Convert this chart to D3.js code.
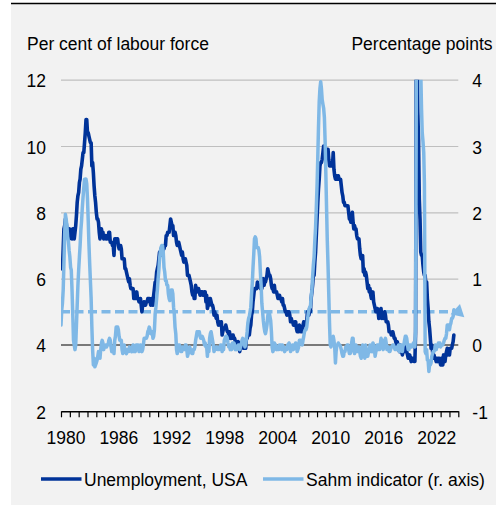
<!DOCTYPE html>
<html>
<head>
<meta charset="utf-8">
<script src="https://cdnjs.cloudflare.com/ajax/libs/d3/7.8.5/d3.min.js"></script>
<style>
  body { margin: 0; background: #fff; }
  svg text { font-family: "Liberation Sans", Arial, sans-serif; font-size: 17.5px; fill: #000; }
</style>
</head>
<body>
<svg id="chart" width="496" height="506"></svg>
<script>
// monthly data, Jan 1980 - Jul 2024
const startYear = 1980;
const endYear = 2025;

// US unemployment rate, per cent of labour force
const unemployment = [
  6.3,6.3,6.3,6.9,7.5,7.6,7.8,7.7,7.5,7.5,7.5,7.2,
  7.5,7.4,7.4,7.2,7.5,7.5,7.2,7.4,7.6,7.9,8.3,8.5,
  8.6,8.9,9.0,9.3,9.4,9.6,9.8,9.8,10.1,10.4,10.8,10.8,
  10.4,10.4,10.3,10.2,10.1,10.1,9.4,9.5,9.2,8.8,8.5,8.3,
  8.0,7.8,7.8,7.7,7.4,7.2,7.5,7.5,7.3,7.4,7.2,7.3,
  7.3,7.2,7.2,7.3,7.2,7.4,7.4,7.1,7.1,7.1,7.0,7.0,
  6.7,7.2,7.2,7.1,7.2,7.2,7.0,6.9,7.0,7.0,6.9,6.6,
  6.6,6.6,6.6,6.3,6.3,6.2,6.1,6.0,5.9,6.0,5.8,5.7,
  5.7,5.7,5.7,5.4,5.6,5.4,5.4,5.6,5.4,5.4,5.3,5.3,
  5.4,5.2,5.0,5.2,5.2,5.3,5.2,5.2,5.3,5.3,5.4,5.4,
  5.4,5.3,5.2,5.4,5.4,5.2,5.5,5.7,5.9,5.9,6.2,6.3,
  6.4,6.6,6.8,6.7,6.9,6.9,6.8,6.9,6.9,7.0,7.0,7.3,
  7.3,7.4,7.4,7.4,7.6,7.8,7.7,7.6,7.6,7.3,7.4,7.4,
  7.3,7.1,7.0,7.1,7.1,7.0,6.9,6.8,6.7,6.8,6.6,6.5,
  6.6,6.6,6.5,6.4,6.1,6.1,6.1,6.0,5.9,5.8,5.6,5.5,
  5.6,5.4,5.4,5.8,5.6,5.6,5.7,5.7,5.6,5.5,5.6,5.6,
  5.6,5.5,5.5,5.6,5.6,5.3,5.5,5.1,5.2,5.2,5.4,5.4,
  5.3,5.2,5.2,5.1,4.9,5.0,4.9,4.8,4.9,4.7,4.6,4.7,
  4.6,4.6,4.7,4.3,4.4,4.5,4.5,4.5,4.6,4.5,4.4,4.4,
  4.3,4.4,4.2,4.3,4.2,4.3,4.3,4.2,4.2,4.1,4.1,4.0,
  4.0,4.1,4.0,3.8,4.0,4.0,4.0,4.1,3.9,3.9,3.9,3.9,
  4.2,4.2,4.3,4.4,4.3,4.5,4.6,4.9,5.0,5.3,5.5,5.7,
  5.7,5.7,5.7,5.9,5.8,5.8,5.8,5.7,5.7,5.7,5.9,6.0,
  5.8,5.9,5.9,6.0,6.1,6.3,6.2,6.1,6.1,6.0,5.8,5.7,
  5.7,5.6,5.8,5.6,5.6,5.6,5.5,5.4,5.4,5.5,5.4,5.4,
  5.3,5.4,5.2,5.2,5.1,5.0,5.0,4.9,5.0,5.0,5.0,4.9,
  4.7,4.8,4.7,4.7,4.6,4.6,4.7,4.7,4.5,4.4,4.5,4.4,
  4.6,4.5,4.4,4.5,4.4,4.6,4.7,4.6,4.7,4.7,4.7,5.0,
  5.0,4.9,5.1,5.0,5.4,5.6,5.8,6.1,6.1,6.5,6.8,7.3,
  7.8,8.3,8.7,9.0,9.4,9.5,9.5,9.6,9.8,10.0,9.9,9.9,
  9.8,9.8,9.9,9.9,9.6,9.4,9.4,9.5,9.5,9.4,9.8,9.3,
  9.1,9.0,9.0,9.1,9.0,9.1,9.0,9.0,9.0,8.8,8.6,8.5,
  8.3,8.3,8.2,8.2,8.2,8.2,8.2,8.0,7.8,7.8,7.7,7.9,
  8.0,7.7,7.5,7.6,7.5,7.5,7.3,7.2,7.2,7.2,6.9,6.7,
  6.6,6.7,6.7,6.2,6.3,6.1,6.2,6.1,5.9,5.7,5.8,5.6,
  5.7,5.5,5.4,5.4,5.6,5.3,5.2,5.1,5.0,5.0,5.1,5.0,
  4.8,4.9,5.0,5.1,4.8,4.9,4.8,4.9,5.0,4.9,4.7,4.7,
  4.7,4.6,4.4,4.4,4.4,4.3,4.3,4.4,4.3,4.2,4.2,4.1,
  4.0,4.1,4.0,4.0,3.8,4.0,3.8,3.8,3.7,3.8,3.8,3.9,
  4.0,3.8,3.8,3.7,3.6,3.6,3.7,3.6,3.5,3.6,3.6,3.6,
  3.5,3.5,4.4,14.8,13.2,11.0,10.2,8.4,7.8,6.8,6.7,6.7,
  6.4,6.2,6.1,6.1,5.8,5.9,5.4,5.1,4.7,4.5,4.2,3.9,
  4.0,3.8,3.6,3.7,3.6,3.6,3.5,3.6,3.5,3.6,3.6,3.5,
  3.4,3.6,3.5,3.4,3.7,3.6,3.5,3.7,3.8,3.9,3.7,3.8,
  3.7,3.9,3.9,3.9,4.0,4.1,4.3
];

// Sahm recession indicator, percentage points (right axis)
const sahm = [
  0.30,0.53,0.63,0.83,1.23,1.67,1.97,1.90,1.80,1.63,1.57,1.43,
  1.33,1.17,1.13,0.83,0.47,0.07,0.00,-0.07,0.00,0.30,0.60,0.90,
  1.13,1.33,1.50,1.73,1.87,2.07,2.23,2.37,2.50,2.47,2.50,2.43,
  2.20,1.87,1.53,1.23,0.97,0.70,0.27,-0.07,-0.30,-0.20,-0.33,-0.30,
  -0.27,-0.23,-0.17,-0.10,-0.13,-0.20,-0.07,0.03,0.07,0.03,-0.07,0.00,
  -0.03,0.00,-0.03,0.00,0.00,0.07,0.10,0.07,-0.03,-0.10,-0.03,-0.03,
  -0.13,0.07,0.13,0.27,0.27,0.27,0.23,0.13,0.07,0.07,0.07,-0.07,
  -0.13,-0.10,0.00,-0.10,-0.10,-0.13,-0.07,-0.10,-0.10,-0.03,-0.07,-0.07,
  -0.10,-0.03,0.00,-0.10,-0.03,-0.10,0.00,0.00,0.00,0.00,-0.10,-0.03,
  0.00,-0.03,-0.10,-0.07,0.00,0.10,0.10,0.10,0.10,0.13,0.20,0.23,
  0.27,0.23,0.17,0.17,0.20,0.10,0.13,0.23,0.47,0.57,0.70,0.83,
  1.00,1.13,1.30,1.40,1.47,1.50,1.50,1.40,1.17,1.10,0.97,0.97,
  0.90,0.90,0.77,0.70,0.67,0.77,0.83,0.83,0.77,0.57,0.47,0.27,
  0.17,-0.07,-0.13,-0.07,0.00,0.00,-0.07,-0.10,-0.10,-0.03,-0.07,-0.07,
  -0.07,0.00,0.00,-0.07,-0.17,-0.13,-0.10,-0.03,-0.07,-0.10,-0.13,-0.13,
  -0.07,-0.07,-0.03,0.07,0.13,0.20,0.17,0.20,0.20,0.13,0.10,0.10,
  0.13,0.10,0.07,0.00,0.03,-0.03,-0.03,-0.17,-0.03,-0.10,0.10,0.17,
  0.20,0.13,0.07,0.00,-0.10,-0.07,-0.07,-0.03,-0.03,-0.07,-0.07,-0.07,
  -0.03,0.00,0.00,-0.10,-0.07,-0.07,0.07,0.10,0.13,0.13,0.10,0.03,
  -0.03,0.00,-0.07,0.00,-0.07,0.03,0.03,0.03,0.00,-0.07,-0.03,-0.07,
  -0.03,0.00,0.00,-0.07,-0.03,0.00,0.07,0.10,0.07,0.03,-0.03,0.00,
  0.10,0.20,0.33,0.40,0.43,0.50,0.57,0.77,0.93,1.17,1.37,1.60,
  1.63,1.60,1.47,1.47,1.47,1.43,1.33,1.10,0.90,0.63,0.50,0.37,
  0.27,0.20,0.17,0.23,0.30,0.43,0.50,0.50,0.43,0.37,0.20,-0.03,
  -0.10,-0.07,0.03,0.00,0.00,-0.07,-0.03,-0.07,-0.07,0.00,0.00,0.00,
  -0.07,0.00,-0.07,-0.03,-0.10,-0.07,-0.07,-0.07,0.00,0.00,0.03,0.00,
  -0.10,-0.07,-0.07,0.00,-0.07,-0.03,0.00,0.03,0.00,-0.10,-0.07,-0.03,
  0.07,0.07,0.07,0.03,0.00,0.07,0.13,0.20,0.23,0.23,0.27,0.37,
  0.47,0.53,0.57,0.57,0.73,0.83,1.03,1.20,1.33,1.57,1.77,2.07,
  2.40,2.83,3.27,3.67,3.87,3.97,3.87,3.70,3.63,3.57,3.43,3.07,
  2.57,2.03,1.57,1.20,0.77,0.33,0.00,-0.03,0.03,0.03,0.13,0.07,
  -0.03,-0.27,-0.10,0.00,0.00,0.03,0.00,0.00,-0.03,-0.07,-0.13,-0.17,
  -0.17,-0.10,-0.10,-0.03,-0.03,0.00,0.00,-0.07,-0.13,-0.13,-0.10,0.03,
  0.10,0.10,-0.03,-0.13,-0.07,0.00,-0.10,-0.10,-0.10,-0.03,-0.10,-0.17,
  -0.20,-0.07,0.00,-0.13,-0.13,-0.20,0.00,-0.07,-0.07,-0.17,-0.10,-0.10,
  0.00,-0.10,-0.07,-0.10,0.03,0.00,-0.07,-0.17,-0.10,-0.07,0.00,0.00,
  -0.07,-0.07,0.00,0.10,0.07,0.03,-0.07,0.03,0.07,0.10,0.03,-0.07,
  -0.07,-0.03,-0.10,-0.10,-0.07,-0.03,-0.03,0.00,0.00,-0.03,-0.07,-0.07,
  -0.07,-0.03,-0.03,0.00,-0.10,0.00,-0.07,0.00,-0.10,0.00,0.00,0.07,
  0.13,0.13,0.10,0.00,-0.07,-0.07,0.00,0.00,-0.03,-0.03,0.00,0.03,
  0.00,-0.03,0.27,4.03,7.27,9.47,7.93,6.33,5.27,4.13,3.57,3.20,
  3.07,2.90,2.43,-0.10,-0.13,-0.07,-0.23,-0.23,-0.40,-0.30,-0.30,-0.27,
  -0.17,-0.13,-0.10,-0.10,-0.07,0.00,-0.07,0.00,-0.03,0.03,0.03,0.03,
  -0.03,0.00,0.00,0.00,0.03,0.07,0.10,0.10,0.17,0.30,0.30,0.30,
  0.23,0.30,0.33,0.40,0.40,0.43,0.53
];

const threshold = 0.5;
const yearLabels = [1980, 1986, 1992, 1998, 2004, 2010, 2016, 2022];
const leftTicks = [2, 4, 6, 8, 10, 12];
const rightTicks = [-1, 0, 1, 2, 3, 4];
const seriesNames = ["Unemployment, USA", "Sahm indicator (r. axis)"];

const darkBlue = "#003399";
const lightBlue = "#7fb8e6";

const svg = d3.select("#chart");
const plotLeft = 61, plotRight = 458.3, plotTop = 79.7, plotBottom = 411.3;

// panel background and top rule
svg.append("rect").attr("x", 11).attr("y", 3).attr("width", 485).attr("height", 502).attr("fill", "#f2f2f2");
svg.append("line").attr("x1", 11).attr("x2", 496).attr("y1", 3.5).attr("y2", 3.5)
  .attr("stroke", "#000").attr("stroke-width", 1.5);

const months = unemployment.map((d, i) => new Date(startYear, i, 1));

const x = d3.scaleTime().domain([new Date(startYear, 0, 1), new Date(endYear, 0, 1)]).range([plotLeft, plotRight]);
const yL = d3.scaleLinear().domain([2, 12]).range([plotBottom, plotTop]);
const yR = d3.scaleLinear().domain([-1, 4]).range([plotBottom, plotTop]);

// gridlines
const grid = svg.append("g").attr("transform", "translate(" + plotLeft + ",0)")
  .call(d3.axisLeft(yL).tickValues(leftTicks.filter(d => d > 4)).tickSize(-(plotRight - plotLeft)).tickFormat(""));
grid.select(".domain").remove();
grid.selectAll(".tick line").attr("stroke", "#bfbfbf").attr("stroke-width", 1.2);

// zero line of the right axis
svg.append("line").attr("x1", plotLeft).attr("x2", plotRight).attr("y1", yR(0)).attr("y2", yR(0))
  .attr("stroke", "#000").attr("stroke-width", 1.2);

// x axis with yearly ticks
const xAxis = svg.append("g").attr("transform", "translate(0," + plotBottom + ")")
  .call(d3.axisBottom(x).ticks(d3.timeYear.every(1)).tickSize(6).tickSizeOuter(0).tickFormat(""));
xAxis.select(".domain").attr("stroke", "#000").attr("stroke-width", 1.4);
xAxis.selectAll(".tick line").attr("stroke", "#000").attr("stroke-width", 1.2);

// year labels centred in their year
const xLab = svg.append("g").attr("transform", "translate(0," + plotBottom + ")")
  .call(d3.axisBottom(x).tickValues(yearLabels.map(y => new Date(y, 6, 1))).tickSize(0)
    .tickFormat(d => d.getFullYear()));
xLab.select(".domain").remove();
xLab.selectAll("text").attr("y", 444 - plotBottom).attr("dy", 0);

// left and right value labels
const yLeft = svg.append("g").attr("transform", "translate(" + plotLeft + ",0)")
  .call(d3.axisLeft(yL).tickValues(leftTicks).tickSize(0).tickPadding(15).tickFormat(d => String(d)));
yLeft.select(".domain").remove();
yLeft.selectAll("text").attr("dy", "0.4em");

const yRight = svg.append("g").attr("transform", "translate(" + plotRight + ",0)")
  .call(d3.axisRight(yR).tickValues(rightTicks).tickSize(0).tickPadding(14).tickFormat(d => String(d)));
yRight.select(".domain").remove();
yRight.selectAll("text").attr("dy", "0.4em");

svg.selectAll(".tick text").style("font-family", '"Liberation Sans", Arial, sans-serif')
  .style("font-size", "17.5px").attr("fill", "#000");

// axis titles
svg.append("text").attr("x", 27).attr("y", 49.5).text("Per cent of labour force");
svg.append("text").attr("x", 492.5).attr("y", 49.5).attr("text-anchor", "end").text("Percentage points");

// plot clip
svg.append("clipPath").attr("id", "plotclip").append("rect")
  .attr("x", plotLeft).attr("y", plotTop).attr("width", plotRight - plotLeft).attr("height", plotBottom - plotTop);

const plot = svg.append("g").attr("clip-path", "url(#plotclip)");

// threshold
const thr = [new Date(startYear, 0, 1), new Date(endYear, 0, 1)];
plot.append("path")
  .attr("d", d3.line().x(d => x(d)).y(() => yR(threshold))(thr))
  .attr("fill", "none").attr("stroke", lightBlue).attr("stroke-width", 3.5)
  .attr("stroke-dasharray", "9,4.5");

plot.append("path")
  .attr("d", d3.line().x((d, i) => x(months[i])).y(d => yL(d))(unemployment))
  .attr("fill", "none").attr("stroke", darkBlue).attr("stroke-width", 3.6)
  .attr("stroke-linejoin", "round").attr("stroke-linecap", "round");

plot.append("path")
  .attr("d", d3.line().x((d, i) => x(months[i])).y(d => yR(d))(sahm))
  .attr("fill", "none").attr("stroke", lightBlue).attr("stroke-width", 3.5)
  .attr("stroke-linejoin", "round").attr("stroke-linecap", "round");

// end marker on the threshold line
svg.append("path")
  .attr("d", d3.symbol(d3.symbolTriangle, 85)())
  .attr("transform", "translate(" + x(thr[1]) + "," + yR(threshold) + ") rotate(12)")
  .attr("fill", lightBlue);

// legend
const legendX = [41, 263];
const legendColors = [darkBlue, lightBlue];
seriesNames.forEach((name, i) => {
  svg.append("line").attr("x1", legendX[i]).attr("x2", legendX[i] + 40.5)
    .attr("y1", 479).attr("y2", 479)
    .attr("stroke", legendColors[i]).attr("stroke-width", 3.5);
  svg.append("text").attr("x", legendX[i] + 43).attr("y", 485.5).text(name);
});
</script>
</body>
</html>
